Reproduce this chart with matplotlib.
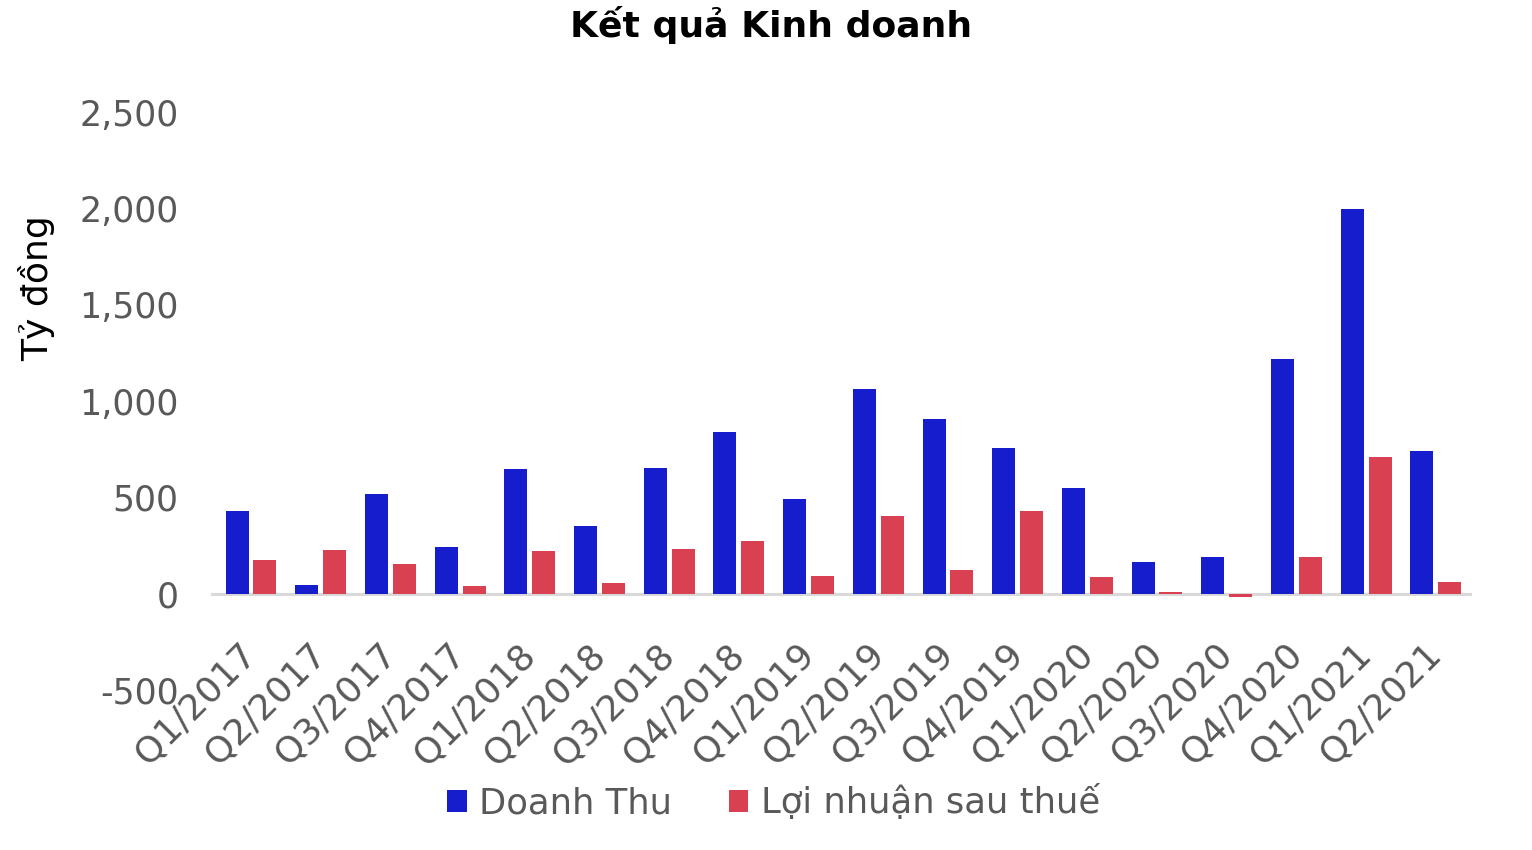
import matplotlib
matplotlib.use('Agg')
import matplotlib.pyplot as plt
import numpy as np
from matplotlib.ticker import FuncFormatter

# data (ty dong)
quarters = ['Q1/2017', 'Q2/2017', 'Q3/2017', 'Q4/2017',
            'Q1/2018', 'Q2/2018', 'Q3/2018', 'Q4/2018',
            'Q1/2019', 'Q2/2019', 'Q3/2019', 'Q4/2019',
            'Q1/2020', 'Q2/2020', 'Q3/2020', 'Q4/2020',
            'Q1/2021', 'Q2/2021']
doanh_thu = [430, 43, 520, 243, 645, 349, 650, 840, 494,
             1062, 908, 758, 547, 166, 192, 1218, 1999, 742]
loi_nhuan = [174, 226, 153, 39, 222, 54, 231, 276, 94,
             403, 125, 429, 85, 7, -15, 192, 709, 62]

blue = '#161DCC'
red = '#D94051'
grey = '#595959'

plt.rcParams['font.family'] = ['DejaVu Sans']

fig = plt.figure(figsize=(15.32, 8.5), dpi=100)
ax = fig.add_axes([0.1384, 0.1882, 0.8211, 0.68])

x = np.arange(len(quarters))
w = 0.33
ax.bar(x - 0.2, doanh_thu, w, color=blue, label='Doanh Thu', zorder=2)
ax.bar(x + 0.2, loi_nhuan, w, color=red, label='Lợi nhuận sau thuế', zorder=2)

ax.set_xlim(-0.56, 17.49)
ax.set_ylim(-500, 2500)
ax.set_yticks(np.arange(-500, 2501, 500))
ax.yaxis.set_major_formatter(FuncFormatter(lambda v, p: '{:,.0f}'.format(v)))

for s in ['top', 'right', 'left']:
    ax.spines[s].set_visible(False)
ax.spines['bottom'].set_position(('data', 0))
ax.spines['bottom'].set_color('#D9D9D9')
ax.spines['bottom'].set_linewidth(2.2)
ax.spines['bottom'].set_zorder(1)

ax.set_xticks(x)
ax.set_xticklabels(quarters, rotation=45, ha='right', va='center',
                   rotation_mode='anchor')
ax.tick_params(axis='x', length=0, pad=40, labelsize=26, labelcolor=grey)
ax.tick_params(axis='y', length=0, pad=24, labelsize=25, labelcolor=grey)

fig.text(0.503, 0.97, 'Kết quả Kinh doanh', ha='center', va='center',
         fontsize=26, fontweight='bold', color='black')
fig.text(0.024, 0.661, 'Tỷ đồng', rotation=90, ha='center', va='center',
         fontsize=26, color='black')

leg = fig.legend(loc='center', bbox_to_anchor=(0.505, 0.056), ncol=2,
                 frameon=False, fontsize=25.5, handlelength=0.55,
                 handleheight=0.55, handletextpad=0.35, columnspacing=1.6)
for t in leg.get_texts():
    t.set_color(grey)

fig.savefig('out.png', dpi=100)
